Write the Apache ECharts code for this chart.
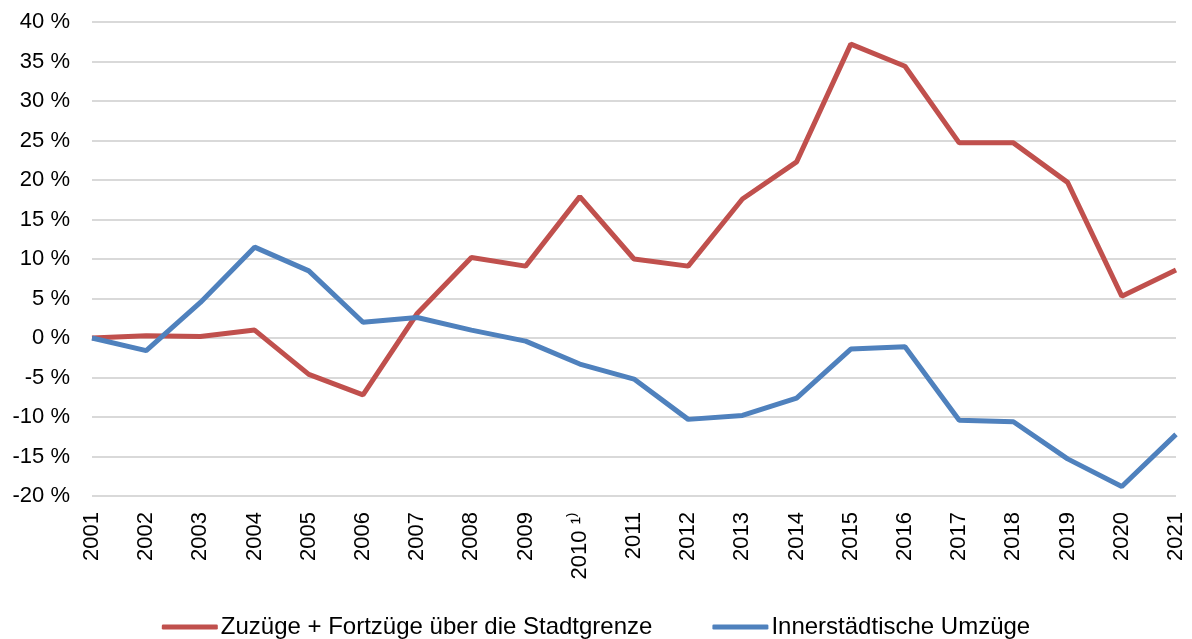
<!DOCTYPE html>
<html>
<head>
<meta charset="utf-8">
<script src="https://cdn.jsdelivr.net/npm/echarts@6/dist/echarts.min.js"></script>
<style>
  html, body { margin: 0; padding: 0; background: #fff; }
  #chart { width: 1192px; height: 639px; }
</style>
</head>
<body>
<div id="chart"></div>
<script>
// Jahre (2010 mit Fußnote)
const years = ['2001', '2002', '2003', '2004', '2005', '2006', '2007', '2008', '2009', '2010 ¹⁾',
  '2011', '2012', '2013', '2014', '2015', '2016', '2017', '2018', '2019', '2020', '2021'];

// Veränderung gegenüber 2001 in %
const zuFortzuege = [0, 0.3, 0.2, 1.0, -4.6, -7.2, 3.1, 10.2, 9.1, 17.9,
  10.0, 9.1, 17.6, 22.3, 37.2, 34.4, 24.7, 24.7, 19.7, 5.3, 8.6];
const innerstaedtisch = [0, -1.6, 4.5, 11.5, 8.5, 2.0, 2.6, 1.0, -0.4, -3.3,
  -5.2, -10.3, -9.8, -7.6, -1.4, -1.1, -10.4, -10.6, -15.3, -18.8, -12.2];

const seriesNames = ['Zuzüge + Fortzüge über die Stadtgrenze', 'Innerstädtische Umzüge'];
const seriesColors = ['#C0504D', '#4F81BD'];

const font = '"Liberation Sans", Arial, sans-serif';
const chart = echarts.init(document.getElementById('chart'));

chart.setOption({
  animation: false,
  grid: { left: 92, right: 16, top: 22, bottom: 143 },
  legend: {
    top: 610,
    left: 'center',
    itemWidth: 56,
    itemHeight: 5,
    itemGap: 60,
    icon: 'roundRect',
    textStyle: { fontFamily: font, fontSize: 24, color: '#000', padding: [0, 0, 0, -2] },
    data: seriesNames
  },
  xAxis: {
    type: 'category',
    data: years,
    boundaryGap: false,
    axisLine: { show: false },
    axisTick: { show: false },
    axisLabel: {
      rotate: 90,
      interval: 0,
      margin: 16,
      fontFamily: font,
      fontSize: 22,
      color: '#000'
    }
  },
  yAxis: {
    type: 'value',
    min: -20,
    max: 40,
    interval: 5,
    axisLine: { show: false },
    axisTick: { show: false },
    axisLabel: {
      margin: 22,
      fontFamily: font,
      fontSize: 22,
      color: '#000',
      formatter: v => v + ' %'
    },
    splitLine: { lineStyle: { color: '#D9D9D9', width: 2 } }
  },
  series: [
    {
      name: seriesNames[0],
      type: 'line',
      data: zuFortzuege,
      symbol: 'none',
      lineStyle: { color: seriesColors[0], width: 5 },
      itemStyle: { color: seriesColors[0] }
    },
    {
      name: seriesNames[1],
      type: 'line',
      data: innerstaedtisch,
      symbol: 'none',
      lineStyle: { color: seriesColors[1], width: 5 },
      itemStyle: { color: seriesColors[1] }
    }
  ]
});
</script>
</body>
</html>
